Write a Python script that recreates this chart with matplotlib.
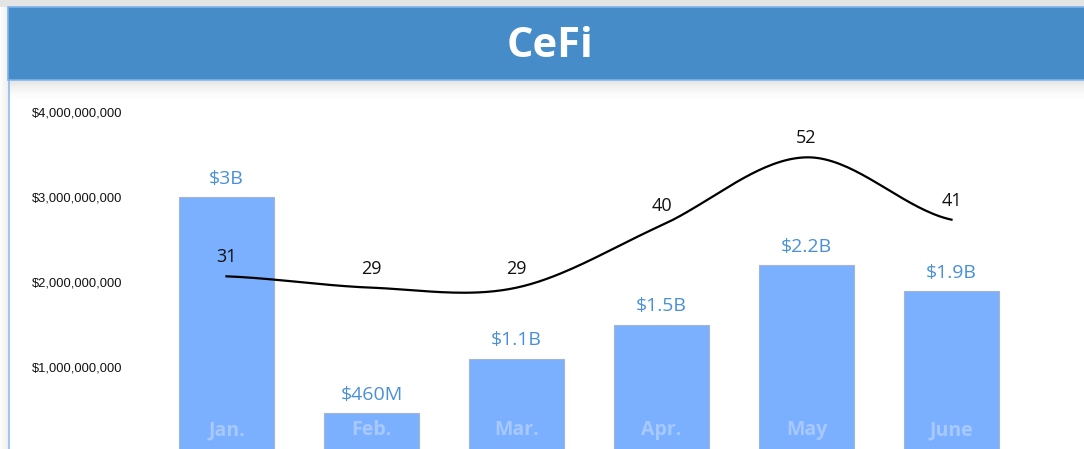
import numpy as np
import matplotlib
matplotlib.use("Agg")
import matplotlib.pyplot as plt
from matplotlib.patches import Rectangle

# ---- data ----
months = ["Jan.", "Feb.", "Mar.", "Apr.", "May", "June"]
volumes = [3.0e9, 0.46e9, 1.1e9, 1.5e9, 2.2e9, 1.9e9]
volume_labels = ["$3B", "$460M", "$1.1B", "$1.5B", "$2.2B", "$1.9B"]
counts = [31, 29, 29, 40, 52, 41]
ytick_vals = [1e9, 2e9, 3e9, 4e9]
ytick_labels = ["$1,000,000,000", "$2,000,000,000", "$3,000,000,000", "$4,000,000,000"]
title = "CeFi"

W, H = 1084, 449
fig = plt.figure(figsize=(W / 100, H / 100), dpi=100)
fig.patch.set_facecolor("white")

def fx(px):
    return px / W

def fy(py):
    return 1 - py / H

# top shadow
fig.patches.append(Rectangle((0, fy(7)), 1, 7 / H, transform=fig.transFigure,
                             facecolor="#E4E4E4", edgecolor="none", zorder=0))
# left shadow
for i in range(8):
    fig.patches.append(Rectangle((fx(i), 0), 1 / W, fy(7), transform=fig.transFigure,
                                 facecolor="#000000", alpha=0.06 * (i + 1) / 8, edgecolor="none", zorder=0))
# shadow under header
for i in range(22):
    a = 0.10 * (1 - i / 22) ** 2
    fig.patches.append(Rectangle((fx(8), fy(81 + i + 1)), 1, 1 / H, transform=fig.transFigure,
                                 facecolor="#000000", alpha=a, edgecolor="none", zorder=1))
# header band
fig.patches.append(Rectangle((fx(8), fy(80)), 1, 73 / H, transform=fig.transFigure,
                             facecolor="#468CC8", edgecolor="#7FB2EA", linewidth=1.2, zorder=2))
# left border of panel
fig.lines.append(plt.Line2D([fx(8.5), fx(8.5)], [0, fy(80)], transform=fig.transFigure,
                            color="#8DBBEA", linewidth=1.2, zorder=2))
fig.text(fx(550), fy(41.5), title, ha="center", va="center_baseline", color="white",
         fontsize=30, fontweight="bold", family=["Open Sans", "DejaVu Sans"], zorder=3)

# ---- axes ----
left_px, right_px = 154, 1024
top_px, zero_px = 112, 452
ax = fig.add_axes([fx(left_px), fy(zero_px), (right_px - left_px) / W, (zero_px - top_px) / H])
ax.set_facecolor("none")
x = np.arange(len(months))
ax.bar(x, volumes, width=0.65, color="#7AB0FF", edgecolor="#A5B6CC", linewidth=0.8, zorder=2)
ax.set_xlim(-0.5, len(months) - 0.5)
ax.set_ylim(0, 4e9)
ax.set_yticks(ytick_vals)
ax.set_yticklabels(ytick_labels, family=["Liberation Sans", "DejaVu Sans"], fontsize=9.3, color="#111111")
ax.tick_params(axis="y", length=0, pad=23)
ax.tick_params(axis="x", length=0, labelbottom=False)
for s in ax.spines.values():
    s.set_visible(False)

for xi, v, lab in zip(x, volumes, volume_labels):
    ax.annotate(lab, (xi, v), xytext=(0, 9), textcoords="offset pixels", ha="center", va="bottom",
                color="#4A90D9", fontsize=14, family=["Open Sans", "DejaVu Sans"], zorder=4)
for xi, m in zip(x, months):
    ax.annotate(m, (xi, 0), xytext=(0, 22), textcoords="offset pixels", ha="center", va="center",
                color="#A8C9FF", fontsize=14, fontweight="bold", family=["Open Sans", "DejaVu Sans"], zorder=4)

# ---- count line on secondary axis ----
ax2 = ax.twinx()
ax2.set_ylim(0, 60)
ax2.set_axis_off()
c = np.array(counts, dtype=float)
xs_all, ys_all = [], []
n = len(c)
for i in range(n - 1):
    p0 = c[i - 1] if i > 0 else c[i]
    p1, p2 = c[i], c[i + 1]
    p3 = c[i + 2] if i + 2 < n else c[i + 1]
    m1 = (p2 - p0) / 2
    m2 = (p3 - p1) / 2
    t = np.linspace(0, 1, 40)
    h00 = 2 * t**3 - 3 * t**2 + 1
    h10 = t**3 - 2 * t**2 + t
    h01 = -2 * t**3 + 3 * t**2
    h11 = t**3 - t**2
    xs_all.append(i + t)
    ys_all.append(h00 * p1 + h10 * m1 + h01 * p2 + h11 * m2)
ax2.plot(np.concatenate(xs_all), np.concatenate(ys_all), color="black", linewidth=1.6, zorder=5)
for xi, v in zip(x, counts):
    ax2.annotate(str(v), (xi, v), xytext=(0, 19), textcoords="offset pixels", ha="center", va="center",
                 color="#111111", fontsize=13, family=["Open Sans", "DejaVu Sans"], zorder=6)

fig.savefig("out.png", dpi=100)
